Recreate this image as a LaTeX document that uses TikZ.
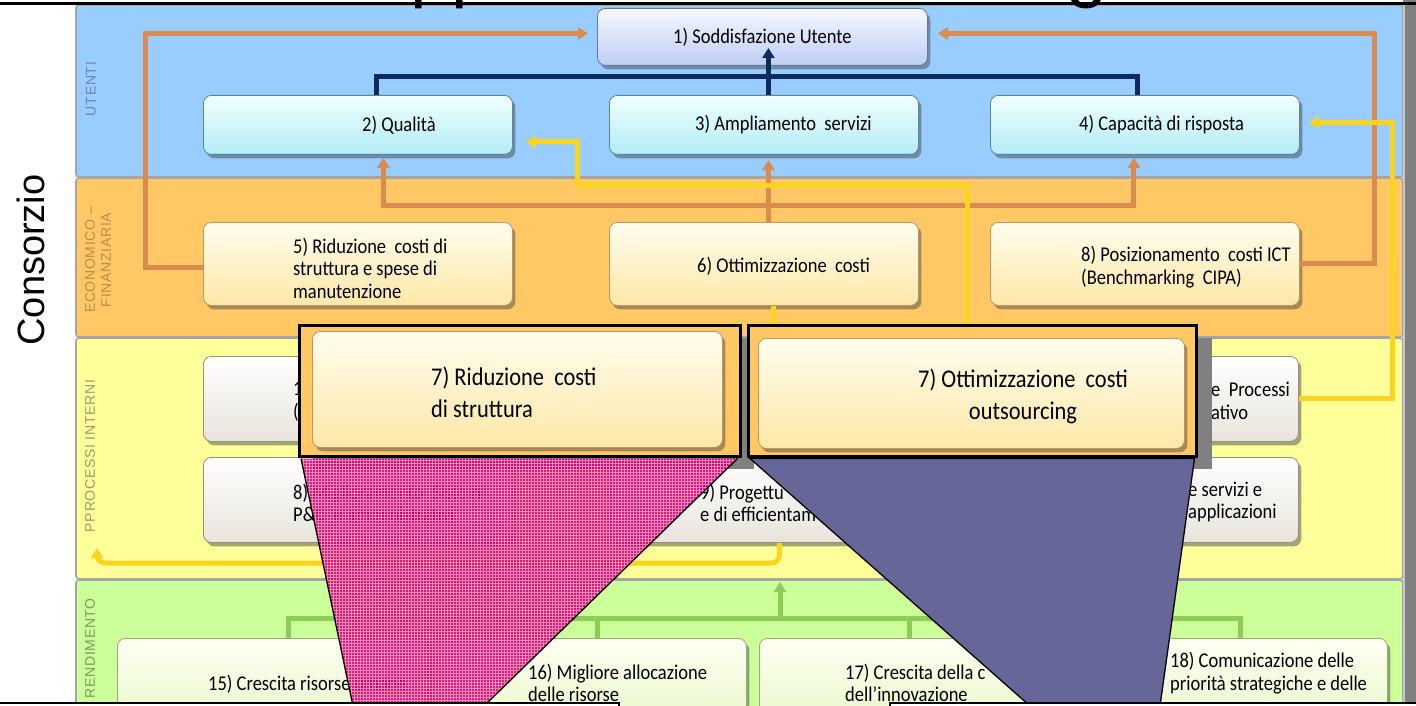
\documentclass[tikz,border=0pt]{standalone}
\usepackage{fontspec}
\setmainfont{Carlito}
\newfontfamily\boxfont[FakeStretch=0.88]{Carlito}
\newfontfamily\arialfont{Liberation Sans}
\newfontfamily\labelfont[LetterSpace=5]{Liberation Sans}
\usetikzlibrary{arrows.meta,shadows,patterns}

% band and connector colours
\definecolor{bandblue}{RGB}{153,204,255}
\definecolor{bandorange}{RGB}{255,200,100}
\definecolor{bandyellow}{RGB}{255,255,153}
\definecolor{bandgreen}{RGB}{204,255,153}
\definecolor{bandedge}{RGB}{165,165,165}
\definecolor{stripgray}{RGB}{128,128,128}
\definecolor{lblblue}{RGB}{110,135,175}
\definecolor{lblorange}{RGB}{190,140,75}
\definecolor{lblyellow}{RGB}{155,155,115}
\definecolor{lblgreen}{RGB}{125,155,95}
\definecolor{conorange}{RGB}{218,140,80}
\definecolor{connavy}{RGB}{12,42,92}
\definecolor{conyellow}{RGB}{250,212,30}
\definecolor{congreen}{RGB}{140,205,85}
\definecolor{lensrose}{RGB}{198,0,104}
\definecolor{lensroselight}{RGB}{250,130,190}
\definecolor{lensblue}{RGB}{102,102,153}
% box colours
\definecolor{lavtop}{RGB}{247,249,255}
\definecolor{lavbot}{RGB}{190,205,245}
\definecolor{lavedge}{RGB}{100,120,165}
\definecolor{cyantop}{RGB}{242,255,255}
\definecolor{cyanbot}{RGB}{178,236,246}
\definecolor{cyanedge}{RGB}{85,135,155}
\definecolor{creamtop}{RGB}{255,253,238}
\definecolor{creambot}{RGB}{255,232,168}
\definecolor{creamedge}{RGB}{190,150,95}
\definecolor{graytop}{RGB}{255,255,255}
\definecolor{graybot}{RGB}{232,228,220}
\definecolor{grayedge}{RGB}{150,142,132}
\definecolor{greentop}{RGB}{255,255,242}
\definecolor{greenbot}{RGB}{228,246,196}
\definecolor{greenedge}{RGB}{150,172,120}

\begin{document}
\begin{tikzpicture}[x=1pt,y=-1pt,
  band/.style={draw=bandedge, line width=1.6pt, rounded corners=3pt},
  lbl/.style={rotate=90, font=\labelfont\fontsize{14}{16}\selectfont, inner sep=0pt, align=center},
  box/.style={rectangle, rounded corners=8pt, anchor=north west, inner sep=0pt, line width=0.8pt,
    drop shadow={shadow xshift=3pt, shadow yshift=-4pt, fill=black!70, opacity=0.5}},
  lavbox/.style={box, draw=lavedge, top color=lavtop, bottom color=lavbot},
  cyanbox/.style={box, draw=cyanedge, top color=cyantop, bottom color=cyanbot},
  creambox/.style={box, draw=creamedge, top color=creamtop, bottom color=creambot},
  graybox/.style={box, draw=grayedge, top color=graytop, bottom color=graybot},
  greenbox/.style={box, draw=greenedge, top color=greentop, bottom color=greenbot},
  btxt/.style={font=\boxfont\fontsize{21}{22.5}\selectfont, inner sep=0pt, anchor=west, align=left},
  bigtxt/.style={font=\boxfont\fontsize{25.5}{32}\selectfont, inner sep=0pt},
  frame/.style={draw=black, line width=2.5pt, fill=bandorange, anchor=north west, inner sep=0pt},
  conn/.style={line width=5pt},
  tip/.style={-{Triangle[length=10pt,width=12pt]}},
  oline/.style={conn, draw=conorange},
  nline/.style={conn, draw=connavy},
  yline/.style={conn, draw=conyellow},
  gline/.style={conn, draw=congreen},
]
\useasboundingbox (0,0) rectangle (1416,706);
\clip (0,0) rectangle (1416,706);
\fill[white] (0,0) rectangle (1416,706);

% perspective bands
\draw[band, fill=bandblue]   (76,5)   rectangle (1403,177);
\draw[band, fill=bandorange] (76,178) rectangle (1403,337);
\draw[band, fill=bandyellow] (76,338) rectangle (1403,579);
\draw[band, fill=bandgreen]  (76,580) rectangle (1403,730);

% right edge strip
\fill[stripgray] (1403,0) rectangle (1416,706);
\draw[black!22, line width=1.4pt] (1404,5) -- (1404,706);

% band labels
\node[lbl, text=lblblue] (lu) at (91,89) {UTENTI};
\node[lbl, text=lblorange] (le) at (98,260) {ECONOMICO –\\FINANZIARIA};
\node[lbl, text=lblyellow] (lp) at (90,456) {PPROCESSI INTERNI};
\node[lbl, text=lblgreen, anchor=east] (lr) at (90,598) {RENDIMENTO};

% boxes: users
\node[lavbox, minimum width=330pt, minimum height=57pt] (b1) at (597,8) {};
\node[btxt, anchor=center] (t1) at (b1.center) {1) Soddisfazione Utente};
\node[cyanbox, minimum width=309pt, minimum height=59pt] (b2) at (203,95) {};
\node[cyanbox, minimum width=309pt, minimum height=59pt] (b3) at (609,95) {};
\node[cyanbox, minimum width=309pt, minimum height=59pt] (b4) at (990,95) {};

% boxes: economics
\node[creambox, minimum width=309pt, minimum height=83pt] (b5) at (203,222) {};
\node[creambox, minimum width=309pt, minimum height=83pt] (b6) at (609,222) {};
\node[creambox, minimum width=309pt, minimum height=83pt] (b8) at (990,222) {};

% boxes: internal processes
\node[graybox, minimum width=309pt, minimum height=85pt] (bA) at (203,356) {};
\node[graybox, minimum width=308pt, minimum height=85pt] (bC) at (990,356) {};
\node[graybox, minimum width=309pt, minimum height=85pt] (bD) at (203,457) {};
\node[graybox, minimum width=309pt, minimum height=85pt] (bE) at (610,457) {};
\node[graybox, minimum width=308pt, minimum height=85pt] (bF) at (990,457) {};

% boxes: learning
\node[greenbox, minimum width=311pt, minimum height=100pt] (g15) at (117,638) {};
\node[greenbox, minimum width=308pt, minimum height=100pt] (g16) at (438,638) {};
\node[greenbox, minimum width=310pt, minimum height=100pt] (g17) at (759,638) {};
\node[greenbox, minimum width=309pt, minimum height=100pt] (g18) at (1078,638) {};

% connectors
\draw[oline, tip] ([yshift=-3.5pt]b5.west) -- ++(-58,0) |- ([xshift=-9pt,yshift=3.5pt]b1.west);
\draw[oline, tip] (b8.east) -- ++(75,0) |- ([xshift=10pt,yshift=3.5pt]b1.east);
\coordinate (oj) at (768,205);
\draw[oline, tip] ([xshift=4.5pt]b6.north) -- ++(0,-62);
\draw[oline, tip] (oj) -| ([xshift=25.5pt,yshift=-3pt]b2.south);
\draw[oline, tip] (oj) -| ([xshift=-11pt,yshift=-3pt]b4.south);

\coordinate (ys) at (967,345);
\coordinate (yc) at (577,185);
\draw[yline, tip] (ys) |- (yc) |- ([xshift=13pt,yshift=-17pt]b2.east);
\draw[yline] ([xshift=9.5pt]b6.south) -- ++(0,40);
\draw[yline, tip] (bC.east) -- ++(94,0) |- ([xshift=9pt,yshift=2.5pt]b4.east);
\coordinate (yb) at (97,563);
\draw[yline, tip, rounded corners=8pt] ([xshift=14.5pt]bE.south) |- (yb) -- ++(0,-15);

\coordinate (gj) at (780,618);
\draw[gline] ([xshift=15.5pt]g15.north) |- (gj) -| ([xshift=7.5pt]g18.north);
\draw[gline] ([xshift=5pt]g16.north) -- ++(0,-20);
\draw[gline] ([xshift=-5pt]g17.north) -- ++(0,-20);
\draw[gline, tip] (gj) -- ++(0,-36);

\coordinate (nj) at (768,77);
\draw[nline] ([xshift=18.5pt]b2.north) |- (nj) -| ([xshift=-7pt]b4.north);
\draw[nline, tip] ([xshift=4.5pt]b3.north) -- ++(0,-47);

% box texts
\node[btxt] (t2) at ([xshift=159pt]b2.west) {2) Qualità};
\node[btxt] (t3) at ([xshift=86pt]b3.west) {3) Ampliamento\ \ servizi};
\node[btxt] (t4) at ([xshift=89pt]b4.west) {4) Capacità di risposta};
\node[btxt] (t5) at ([xshift=90pt,yshift=-4pt]b5.west) {5) Riduzione\ \ costi di\\struttura e spese di\\manutenzione};
\node[btxt] (t6) at ([xshift=88pt,yshift=-2pt]b6.west) {6) Ottimizzazione\ \ costi};
\node[btxt] (t8) at ([xshift=91pt,yshift=-3pt]b8.west) {8) Posizionamento\ \ costi ICT\\(Benchmarking\ \ CIPA)};
\node[btxt] (tA) at ([xshift=90pt,yshift=-3pt]bA.west) {1\\(};
\node[btxt] (tC) at (1211,401) {e\ \ Processi\\ativo};
\node[btxt] (tD) at ([xshift=90pt,yshift=-3pt]bD.west) {8) Miglioramento\ \ Sistemi\\P\&C\ \ e amministrativi};
\node[btxt] (tE) at ([xshift=90pt,yshift=-3pt]bE.west) {9) Progettu\\e di efficientam};
\node[btxt] (tF) at (1188,502) {e servizi e\\applicazioni};
\node[btxt] (t15) at (208,684) {15) Crescita risorse umane};
\node[btxt] (t16) at (528,683) {16) Migliore allocazione\\delle risorse};
\node[btxt] (t17) at (845,683) {17) Crescita della c\\dell’innovazione};
\node[btxt] (t18) at (1170,673) {18) Comunicazione delle\\priorità strategiche e delle};

% magnified call-outs
\node[frame, minimum width=441pt, minimum height=131pt,
  drop shadow={shadow xshift=14pt, shadow yshift=-13pt, fill=black!50, opacity=1}] (fL) at (298,324) {};
\node[frame, minimum width=448pt, minimum height=131pt,
  drop shadow={shadow xshift=16pt, shadow yshift=-13pt, fill=black!50, opacity=1}] (fR) at (747,324) {};
\node[creambox, minimum width=410pt, minimum height=116pt] (cL) at (312,331) {};
\node[creambox, minimum width=426pt, minimum height=110pt] (cR) at (758,338) {};
\node[bigtxt, anchor=west, align=left] (tL) at (431,392) {7) Riduzione\ \ costi\\di struttura};
\node[bigtxt, align=center] (tR) at (1023,396) {7) Ottimizzazione\ \ costi\\outsourcing};

% zoom cones
\coordinate (pk1) at (484,706);
\coordinate (pk2) at (353,706);
\fill[lensrose, opacity=0.86] ([xshift=3pt,yshift=-1pt]fL.south west) -- ([xshift=-4pt,yshift=-1pt]fL.south east) -- (pk1) -- (pk2) -- cycle;
\fill[pattern=grid, pattern color=lensroselight, fill opacity=0.3] ([xshift=3pt,yshift=-1pt]fL.south west) -- ([xshift=-4pt,yshift=-1pt]fL.south east) -- (pk1) -- (pk2) -- cycle;
\draw[black, line width=1.3pt] ([xshift=3pt,yshift=-1pt]fL.south west) -- (pk2);
\draw[black, line width=1.3pt] ([xshift=-4pt,yshift=-1pt]fL.south east) -- (pk1);

\coordinate (bl1) at (1160,706);
\coordinate (bl2) at (1030,706);
\filldraw[fill=lensblue, draw=black, line width=1.3pt] ([xshift=3pt,yshift=-1pt]fR.south west) -- ([xshift=-3pt,yshift=-1pt]fR.south east) -- (bl1) -- (bl2) -- cycle;

% blank panels along the bottom
\draw[line width=2.5pt, fill=white] (-5,703) rectangle (619,740);
\draw[line width=2.5pt, fill=white] (890,703) rectangle (1440,740);

% heading rule and heading
\draw[line width=3pt] (0,4) -- (1416,4);
\node[font=\arialfont\fontsize{74}{80}\selectfont, anchor=base west, inner sep=0pt] (hd1) at (410,-6) {pp};
\node[font=\arialfont\fontsize{74}{80}\selectfont, anchor=base west, inner sep=0pt] (hd2) at (1066,-6) {g};
\node[rotate=90, font=\arialfont\fontsize{38}{40}\selectfont, inner sep=0pt] (cons) at (31,260) {Consorzio};
\end{tikzpicture}
\end{document}
